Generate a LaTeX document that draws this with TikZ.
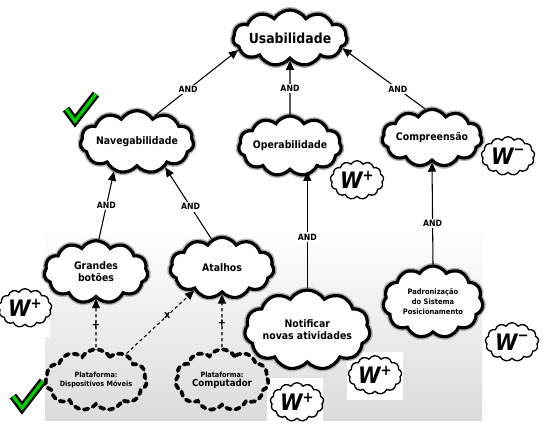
\documentclass[tikz,border=0pt]{standalone}
\usepackage{fontspec}
\setmainfont{DejaVu Sans Condensed}
\usetikzlibrary{shapes.symbols,arrows.meta}
\begin{document}
\begin{tikzpicture}[x=0.75pt,y=-0.75pt,
  solidcloud/.style={cloud, cloud puffs=11, cloud puff arc=115, cloud ignores aspect, inner sep=0pt,
    fill=white, draw=black, line width=2.4pt, preaction={draw=black!30, line width=4.6pt}, align=center},
  dashcloud/.style={cloud, cloud puffs=11, cloud puff arc=115, cloud ignores aspect, inner sep=0pt,
    draw=black, line width=2.8pt, dash pattern=on 3.5pt off 3.5pt, line cap=round, align=center},
  wcloud/.style={cloud, cloud puffs=13, cloud puff arc=120, cloud ignores aspect, inner sep=0pt,
    fill=white, draw=black, line width=1pt, minimum width=40pt, minimum height=29pt},
  conn/.style={draw=black, line width=0.8pt, -{Triangle[length=7pt,width=6pt]}},
  dconn/.style={draw=black, line width=0.8pt, dash pattern=on 2.5pt off 2pt, -{Triangle[length=7pt,width=6pt]}},
  andlbl/.style={fill=white, inner sep=1.2pt, font=\fontsize{6.5}{7}\selectfont\bfseries},
  pluslbl/.style={inner sep=0pt, font=\fontsize{8}{8}\selectfont\bfseries},
  nodefont/.style={font=\fontsize{7.8}{9}\selectfont\bfseries}]
\useasboundingbox (0,0) rectangle (554,439);
\fill[white] (0,0) rectangle (554,439);
\shade[top color=white, bottom color=black!14] (45,228) rectangle (482,420);
% white patches behind pasted icons
\fill[white] (0,282) rectangle (50,337);
\fill[white] (347,352) rectangle (403,400);
\fill[white] (267,378) rectangle (323,439);

% main nodes
\node[solidcloud, minimum width=76pt, minimum height=42pt, font=\fontsize{10.4}{11}\selectfont\bfseries] (usab) at (290,38) {Usabilidade};
\node[solidcloud, nodefont, minimum width=76pt, minimum height=47pt] (nav) at (137,142) {Navegabilidade};
\node[solidcloud, nodefont, minimum width=72pt, minimum height=45pt] (op) at (290,146) {Operabilidade};
\node[solidcloud, nodefont, minimum width=71pt, minimum height=43pt] (comp) at (432,138) {Compreensão};
\node[solidcloud, nodefont, minimum width=78pt, minimum height=47pt] (gb) at (96,272) {Grandes\\botões};
\node[solidcloud, nodefont, minimum width=78pt, minimum height=46pt] (at) at (222,268) {Atalhos};
\node[solidcloud, nodefont, minimum width=77pt, minimum height=60pt] (notif) at (307.3,330) {Notificar\\novas atividades};
\node[solidcloud, font=\fontsize{5.6}{7.5}\selectfont\bfseries, minimum width=75pt, minimum height=54pt] (padr) at (433,302) {Padronização\\do Sistema\\Posicionamento};
\node[dashcloud, font=\fontsize{5.4}{7}\selectfont\bfseries, minimum width=72pt, minimum height=46pt] (pdm) at (96,380) {Plataforma:\\Dispositivos Móveis};
\node[dashcloud, font=\fontsize{5.4}{7}\selectfont\bfseries, minimum width=70pt, minimum height=46pt] (pc) at (222,380) {Plataforma:\\{\fontsize{7.2}{8}\selectfont Computador}};

% connectors
\draw[conn] (nav.56) -- node[andlbl, pos=0.4] {AND} (usab.193);
\draw[conn] (op.north) -- node[andlbl, pos=0.48] {AND} (usab.south);
\draw[conn] (comp.103) -- node[andlbl, pos=0.33] {AND} (usab.349);
\draw[conn] (gb.85) -- node[andlbl, pos=0.5] {AND} (nav.232);
\draw[conn] (at.110) -- node[andlbl, pos=0.45] {AND} (nav.318);
\draw[conn] (notif.north) -- node[andlbl, pos=0.44] {AND} (op.south -| notif.north);
\draw[conn] (padr.north) -- node[andlbl, pos=0.4] {AND} (comp.south);
\draw[dconn] (pdm.north) -- node[pluslbl, pos=0.45] {+} (gb.south);
\draw[dconn] (pdm.41) -- node[pluslbl, pos=0.6] {x} (at.219);
\draw[dconn] (pc.north) -- node[pluslbl, pos=0.45] {+} (at.south);

% W icons
\newcommand{\wplus}{{\fontsize{17}{17}\selectfont\bfseries\itshape W}\raisebox{6pt}{\fontsize{11}{11}\selectfont\bfseries +}}
\newcommand{\wminus}{{\fontsize{17}{17}\selectfont\bfseries\itshape W}\raisebox{7pt}{\fontsize{11}{11}\selectfont\bfseries −}}
\node[wcloud] (w1) at (357,180) {\wplus};
\node[wcloud] (w2) at (508,156) {\wminus};
\node[wcloud] (w3) at (25,308) {\wplus};
\node[wcloud] (w4) at (375,375) {\wplus};
\node[wcloud] (w5) at (297,402) {\wplus};
\node[wcloud] (w6) at (512,342) {\wminus};

% check marks
\coordinate (c1a) at (66,109); \coordinate (c1b) at (75,121); \coordinate (c1c) at (96,94);
\draw[line width=6pt, line join=miter, black] (c1a) -- (c1b) -- (c1c);
\draw[line width=2.6pt, line join=miter, green!80!black] (c1a) -- (c1b) -- (c1c);
\coordinate (c2a) at (13,396); \coordinate (c2b) at (22,408); \coordinate (c2c) at (43,381);
\draw[line width=6pt, line join=miter, black] (c2a) -- (c2b) -- (c2c);
\draw[line width=2.6pt, line join=miter, green!80!black] (c2a) -- (c2b) -- (c2c);
\end{tikzpicture}
\end{document}
